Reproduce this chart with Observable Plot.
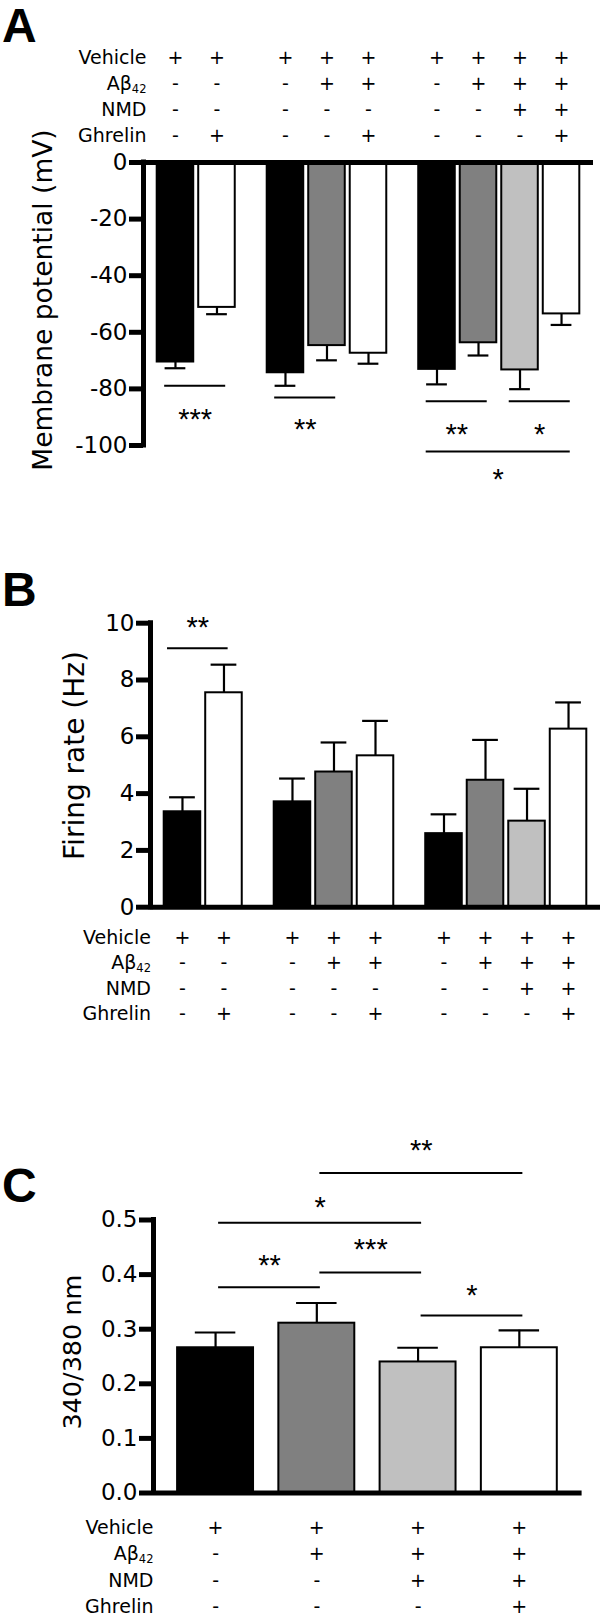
<!DOCTYPE html>
<html><head><meta charset="utf-8">
<script src="https://cdn.jsdelivr.net/npm/d3@7"></script>
<script src="https://cdn.jsdelivr.net/npm/@observablehq/plot@0.6"></script>
<style>
body{margin:0;background:#fff}
#fig{position:relative;width:602px;height:1620px;overflow:hidden;background:#fff}
.panel{position:absolute;left:0}
.letter{position:absolute;left:2px;font:bold 48px "Liberation Sans",Arial,sans-serif;line-height:48px;color:#000}
</style></head>
<body><div id="fig"></div>
<script>
// ---------------- data ----------------
const rowNames = ["Vehicle", "Aβ42", "NMD", "Ghrelin"];

// Panels A and B : 9 conditions in 3 groups
const groupAB   = [0, 0, 1, 1, 1, 2, 2, 2, 2];
const vehicleAB = ["+", "+", "+", "+", "+", "+", "+", "+", "+"];
const abetaAB   = ["-", "-", "-", "+", "+", "-", "+", "+", "+"];
const nmdAB     = ["-", "-", "-", "-", "-", "-", "-", "+", "+"];
const ghrelinAB = ["-", "+", "-", "-", "+", "-", "-", "-", "+"];

// A: membrane potential (mV)
const membraneMean = [-70.5, -51.2, -74.3, -64.7, -67.4, -73.1, -63.7, -73.3, -53.5];
const membraneSem  = [2.2, 2.4, 4.6, 5.2, 3.7, 5.3, 4.5, 6.8, 3.9];
const membraneTicks = [0, -20, -40, -60, -80, -100];
const sigAFrom = [0, 2, 5, 7, 5];
const sigATo   = [1, 3, 6, 8, 8];
const sigALevel = [-78.9, -83.0, -84.4, -84.4, -102.1];
const sigALabel = ["***", "**", "**", "*", "*"];
const sigALabelLevel = [-88.3, -91.8, -93.6, -93.6, -109.4];

// B: firing rate (Hz)
const firingMean = [3.36, 7.55, 3.71, 4.76, 5.33, 2.59, 4.47, 3.03, 6.27];
const firingSem  = [0.51, 0.99, 0.82, 1.04, 1.23, 0.68, 1.42, 1.14, 0.94];
const firingTicks = [0, 2, 4, 6, 8, 10];
const sigBFrom = [0];
const sigBTo   = [1];
const sigBLevel = [9.12];
const sigBLabel = ["**"];
const sigBLabelLevel = [10.1];

// C: 340/380 nm ratio
const groupC   = [0, 1, 2, 3];
const vehicleC = ["+", "+", "+", "+"];
const abetaC   = ["-", "+", "+", "+"];
const nmdC     = ["-", "-", "+", "+"];
const ghrelinC = ["-", "-", "-", "+"];
const ratioMean = [0.266, 0.311, 0.240, 0.266];
const ratioSem  = [0.028, 0.037, 0.026, 0.032];
const ratioTicks = [0, 0.1, 0.2, 0.3, 0.4, 0.5];
const sigCFrom = [1, 0, 1, 0, 2];
const sigCTo   = [3, 2, 2, 1, 3];
const sigCLevel = [0.586, 0.495, 0.404, 0.377, 0.325];
const sigCLabel = ["**", "*", "***", "**", "*"];
const sigCLabelLevel = [0.640, 0.536, 0.458, 0.430, 0.375];

// ---------------- drawing ----------------
function buildPanel(c) {
  const n = c.mean.length;
  const idx = d3.range(n);
  const slot = idx.map(i => c.slotOf(i));
  const cat = idx.map(i => c.ghrelin[i] === "+" ? "ghrelin" : c.nmd[i] === "+" ? "nmd" : c.abeta[i] === "+" ? "abeta" : "vehicle");
  const errEnd = idx.map(i => c.mean[i] + Math.sign(c.mean[i]) * c.sem[i]);
  const colText = idx.map(i => [c.vehicle[i], c.abeta[i], c.nmd[i], c.ghrelin[i]].join("\n"));
  const bIdx = d3.range(c.sigFrom.length);
  const bx1 = bIdx.map(j => slot[c.sigFrom[j]] + c.bracketPad[0]);
  const bx2 = bIdx.map(j => slot[c.sigTo[j]] + c.bracketPad[1]);
  const lh = c.rowStep / 19;
  const svg = Plot.plot({
    width: 602, height: c.height,
    marginTop: c.marginTop, marginBottom: c.marginBottom,
    marginLeft: c.marginLeft, marginRight: c.marginRight,
    x: {type: "linear", domain: c.xDomain, axis: null},
    y: {type: "linear", domain: c.yDomain},
    color: {type: "ordinal", domain: ["vehicle", "abeta", "nmd", "ghrelin"], range: ["#000000", "#808080", "#c0c0c0", "#ffffff"]},
    style: {fontFamily: "'DejaVu Sans', sans-serif", fontSize: "23px", color: "#000", background: "transparent", overflow: "visible"},
    marks: [
      Plot.rect(idx, {x1: i => slot[i] - c.barHalf, x2: i => slot[i] + c.barHalf, y1: () => 0, y2: i => c.mean[i],
        fill: i => cat[i], stroke: "#000", strokeWidth: 2}),
      Plot.ruleX(idx, {x: i => slot[i], y1: i => c.mean[i], y2: i => errEnd[i], strokeWidth: 2.2}),
      Plot.ruleY(idx, {y: i => errEnd[i], x1: i => slot[i] - c.capHalf, x2: i => slot[i] + c.capHalf, strokeWidth: 2.2}),
      Plot.ruleX([c.xDomain[0]], {y1: c.yDomain[0], y2: c.yDomain[1], strokeWidth: 5, strokeLinecap: "square"}),
      Plot.ruleY([0], {strokeWidth: 5}),
      Plot.axisY({ticks: c.ticks, tickFormat: c.tickFormat, tickSize: 14, tickPadding: 2, strokeWidth: 5, fontSize: 23, label: null}),
      Plot.ruleY(bIdx, {y: j => c.sigLevel[j], x1: j => bx1[j], x2: j => bx2[j], strokeWidth: 2}),
      Plot.text(bIdx, {x: j => (bx1[j] + bx2[j]) / 2, y: j => c.sigLabelLevel[j], text: j => c.sigLabel[j],
        fontFamily: "'Liberation Sans', Arial, sans-serif", fontSize: 29, dy: 7.2, fill: "#000"}),
      Plot.text(idx, {x: i => slot[i], text: i => colText[i], frameAnchor: c.rowsAnchor, lineAnchor: "bottom",
        lineHeight: lh, fontSize: 19, dy: c.rowsDy}),
      Plot.text([rowNames.join("\n")], {frameAnchor: c.rowsAnchor + "-left", textAnchor: "end", lineAnchor: "bottom",
        lineHeight: lh, fontSize: 19, dx: c.rowLabelDx, dy: c.rowsDy}),
      Plot.text([c.title], {frameAnchor: "left", rotate: -90, textAnchor: "middle", lineAnchor: "bottom",
        fontSize: c.titleSize, dx: c.titleDx, dy: c.titleDy})
    ]
  });
  // subscript for Aβ42
  d3.select(svg).selectAll("text, tspan").each(function () {
    if (this.childElementCount === 0 && this.textContent === "Aβ42") {
      this.textContent = "Aβ";
      const sub = document.createElementNS("http://www.w3.org/2000/svg", "tspan");
      sub.textContent = "42";
      sub.setAttribute("font-size", "11.5px");
      sub.setAttribute("baseline-shift", "-3px");
      this.appendChild(sub);
    }
  });
  svg.classList.add("panel");
  svg.style.top = c.top + "px";
  svg.style.position = "absolute";
  return svg;
}

const fig = document.getElementById("fig");
const gapAB = 0.65;

fig.appendChild(buildPanel({
  top: 0, height: 500, marginTop: 162, marginBottom: 55, marginLeft: 143, marginRight: 9,
  xDomain: [-0.77, 10.07], yDomain: [-100, 0],
  slotOf: i => i + groupAB[i] * gapAB,
  mean: membraneMean, sem: membraneSem, ticks: membraneTicks, tickFormat: d => String(d),
  vehicle: vehicleAB, abeta: abetaAB, nmd: nmdAB, ghrelin: ghrelinAB,
  sigFrom: sigAFrom, sigTo: sigATo, sigLevel: sigALevel, sigLabel: sigALabel, sigLabelLevel: sigALabelLevel,
  bracketPad: [-0.26, 0.21], barHalf: 0.44, capHalf: 0.25,
  rowsAnchor: "top", rowsDy: -21, rowStep: 26, rowLabelDx: 3,
  title: "Membrane potential (mV)", titleSize: 26.5, titleDx: -91.7, titleDy: -4
}));

fig.appendChild(buildPanel({
  top: 520, height: 520, marginTop: 102.7, marginBottom: 133.3, marginLeft: 150, marginRight: 2,
  xDomain: [-0.77, 10.07], yDomain: [0, 10],
  slotOf: i => i + groupAB[i] * gapAB,
  mean: firingMean, sem: firingSem, ticks: firingTicks, tickFormat: d => String(d),
  vehicle: vehicleAB, abeta: abetaAB, nmd: nmdAB, ghrelin: ghrelinAB,
  sigFrom: sigBFrom, sigTo: sigBTo, sigLevel: sigBLevel, sigLabel: sigBLabel, sigLabelLevel: sigBLabelLevel,
  bracketPad: [-0.36, 0.10], barHalf: 0.44, capHalf: 0.31,
  rowsAnchor: "bottom", rowsDy: 113, rowStep: 25.5, rowLabelDx: 0.5,
  title: "Firing rate (Hz)", titleSize: 28, titleDx: -66.4, titleDy: -9.7
}));

fig.appendChild(buildPanel({
  top: 1040, height: 580, marginTop: 179.5, marginBottom: 127.5, marginLeft: 153, marginRight: 20.4,
  xDomain: [-0.613, 3.62], yDomain: [0, 0.5],
  slotOf: i => groupC[i],
  mean: ratioMean, sem: ratioSem, ticks: ratioTicks, tickFormat: d3.format(".1f"),
  vehicle: vehicleC, abeta: abetaC, nmd: nmdC, ghrelin: ghrelinC,
  sigFrom: sigCFrom, sigTo: sigCTo, sigLevel: sigCLevel, sigLabel: sigCLabel, sigLabelLevel: sigCLabelLevel,
  bracketPad: [0.03, 0.035], barHalf: 0.375, capHalf: 0.2,
  rowsAnchor: "bottom", rowsDy: 120, rowStep: 26.5, rowLabelDx: 0,
  title: "340/380 nm", titleSize: 25.5, titleDx: -73, titleDy: -4.4
}));

for (const [t, y] of [["A", 1.8], ["B", 565.8], ["C", 1161.8]]) {
  const d = document.createElement("div");
  d.className = "letter";
  d.style.top = y + "px";
  d.textContent = t;
  fig.appendChild(d);
}
</script>
</body></html>
